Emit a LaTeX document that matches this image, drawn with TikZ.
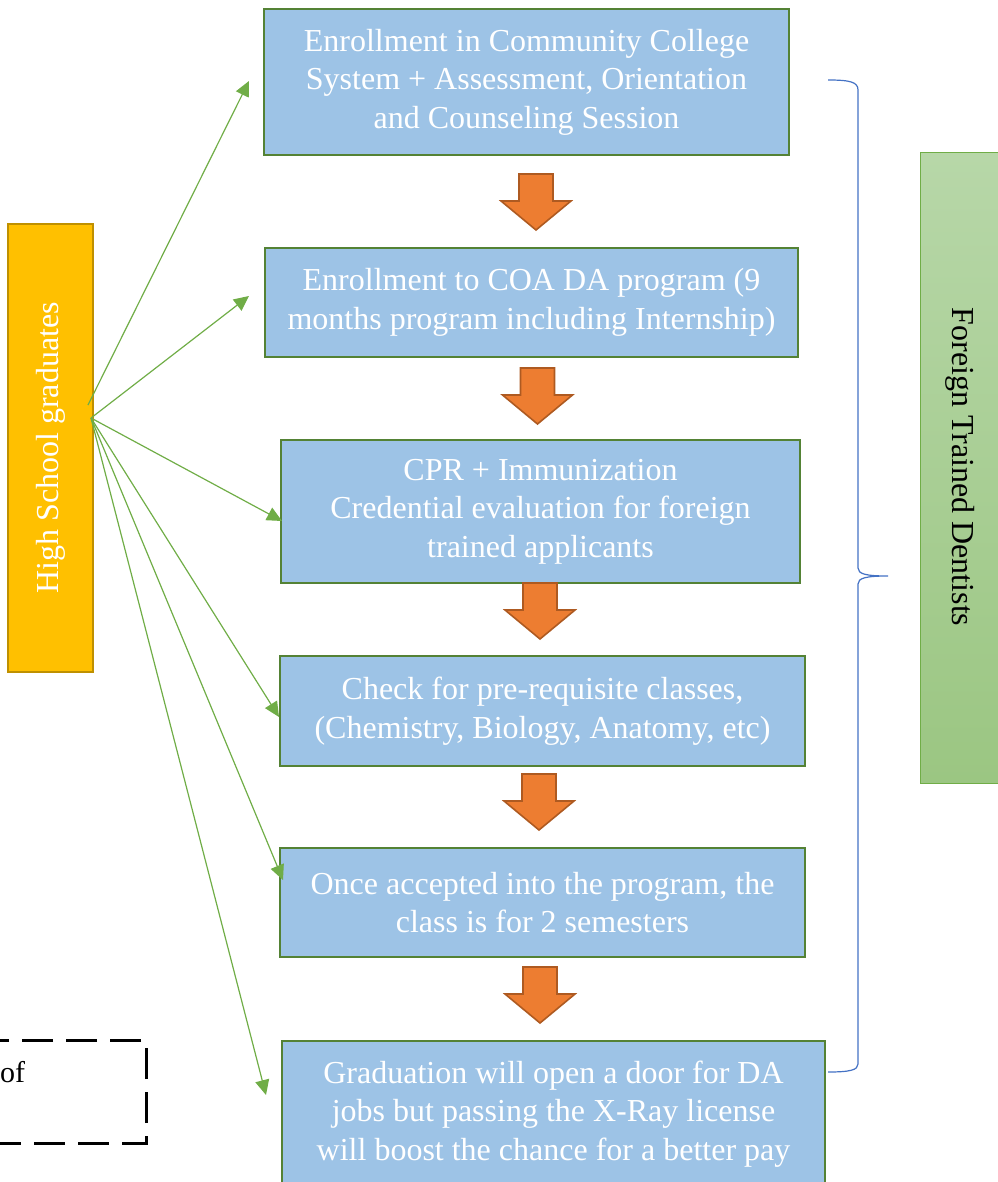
\documentclass[tikz,border=0pt]{standalone}
\usepackage{fontspec}
\setmainfont{Liberation Serif}
\usetikzlibrary{arrows.meta,shadings}
\definecolor{boxblue}{HTML}{9DC3E6}
\definecolor{boxgreen}{HTML}{548235}
\definecolor{arrgreen}{HTML}{70AD47}
\definecolor{orfill}{HTML}{ED7D31}
\definecolor{ordraw}{HTML}{AE5A21}
\definecolor{hsfill}{HTML}{FFC000}
\definecolor{hsdraw}{HTML}{BF9000}
\definecolor{gtop}{HTML}{B7D7A8}
\definecolor{gbot}{HTML}{9BC682}
\definecolor{braceblue}{HTML}{4472C4}
\tikzset{
  stepbox/.style={draw=boxgreen, line width=2.6pt, fill=boxblue, text=white, align=center,
    inner sep=0pt, font=\fontsize{32}{38.5}\selectfont},
  flowarr/.style={draw=arrgreen, line width=1.2pt, -{Triangle[length=15pt,width=14pt]}},
  darrow/.pic={\draw[fill=orfill, draw=ordraw, line width=1.6pt, line join=miter]
     (-17,0) -- (17,0) -- (17,27) -- (35,27) -- (0,56) -- (-35,27) -- (-17,27) -- cycle;}
}
\begin{document}
\begin{tikzpicture}[x=1pt,y=-1pt]
\useasboundingbox (0,0) rectangle (997,1182);
% step boxes
\node[stepbox, minimum width=525pt, minimum height=146pt] (b1) at (526.5,82)
  {Enrollment in Community College\\System + Assessment, Orientation\\and Counseling Session};
\node[stepbox, minimum width=533pt, minimum height=109pt] (b2) at (531.5,302.5)
  {Enrollment to COA DA program (9\\months program including Internship)};
\node[stepbox, minimum width=519pt, minimum height=143pt] (b3) at (540.5,511.5)
  {CPR + Immunization\\Credential evaluation for foreign\\trained applicants};
\node[stepbox, minimum width=525pt, minimum height=110pt] (b4) at (542.5,711)
  {Check for pre-requisite classes,\\(Chemistry, Biology, Anatomy, etc)};
\node[stepbox, minimum width=525pt, minimum height=109pt] (b5) at (542.5,902.5)
  {Once accepted into the program, the\\class is for 2 semesters};
\node[stepbox, minimum width=543pt, minimum height=146pt] (b6) at (553.5,1114)
  {Graduation will open a door for DA\\jobs but passing the X-Ray license\\will boost the chance for a better pay};
% orange down arrows
\pic at (536,174) {darrow};
\pic at (537.5,368) {darrow};
\pic at (540,583) {darrow};
\pic at (539,774) {darrow};
\pic at (540,967) {darrow};
% high school box
\node[draw=hsdraw, line width=1.6pt, fill=hsfill, minimum width=448pt, minimum height=85pt,
  rotate=90, text=white, inner sep=0pt, font=\fontsize{32}{38}\selectfont] (hs) at (50.5,448)
  {High School graduates};
% foreign trained dentists
\node[draw=arrgreen, line width=1pt, top color=gtop, bottom color=gbot, minimum width=630pt,
  minimum height=84pt, rotate=-90, inner sep=0pt, font=\fontsize{32}{38}\selectfont] (ftd) at (962,468)
  {};
\node[rotate=-90, inner sep=0pt, font=\fontsize{32}{38}\selectfont] (ftdt) at (960,467)
  {Foreign Trained Dentists};
% brace
\coordinate (brtop) at (828,80);
\coordinate (brtip) at (888,576);
\coordinate (brbot) at (828,1072);
\draw[braceblue, line width=1.2pt]
  (brtop) .. controls (850,80) and (858,82) .. (858,90) -- (858,568)
  .. controls (858,574) and (866,576) .. (brtip)
  .. controls (866,576) and (858,578) .. (858,584) -- (858,1064)
  .. controls (858,1070) and (850,1072) .. (brbot);
% green arrows
\coordinate (o1) at (88,405);
\coordinate (o) at (91,418);
\coordinate (e1) at (249,81);
\coordinate (e2) at (249,296);
\coordinate (e3) at (282,521);
\coordinate (e4) at (279,717);
\coordinate (e5) at (283,880);
\coordinate (e6) at (266,1095);
\draw[flowarr] (o1) -- (e1);
\draw[flowarr] (o) -- (e2);
\draw[flowarr] (o) -- (e3);
\draw[flowarr] (o) -- (e4);
\draw[flowarr] (o) -- (e5);
\draw[flowarr] (o) -- (e6);
% dashed box (cut off at the left)
\node[draw=black, line width=3pt, dash pattern=on 31pt off 13pt, minimum width=200pt,
  minimum height=103pt, inner sep=0pt] (db) at (46,1091.5) {};
\node[anchor=base west, inner sep=0pt, font=\fontsize{30}{34}\selectfont] (dbt) at (0,1082) {of};
\end{tikzpicture}
\end{document}
